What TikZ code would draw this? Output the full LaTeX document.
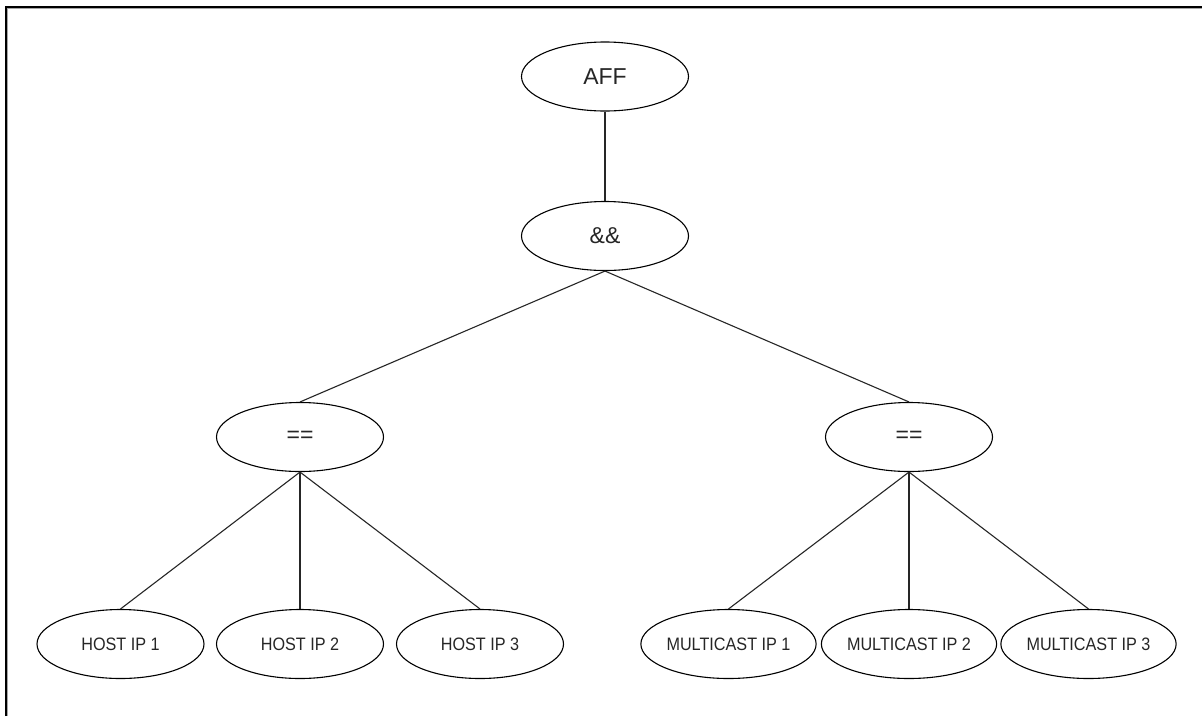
\documentclass[tikz,border=0pt]{standalone}
\usepackage{fontspec}
\setmainfont{Liberation Sans}
\newfontfamily\leaffont[FakeStretch=0.9]{Liberation Sans}
\usetikzlibrary{shapes.geometric}
\begin{document}
\begin{tikzpicture}[x=1pt,y=-1pt,
  oval/.style={ellipse,draw=black,line width=1.1pt,minimum width=167pt,minimum height=69pt,
    inner sep=0pt,text=black!85,font=\fontsize{23}{26}\selectfont},
  leaf/.style={oval,font=\leaffont\fontsize{18}{20}\selectfont},
  link/.style={draw=black!85,line width=1.1pt}]
  \useasboundingbox (0,0) rectangle (1202,716);
  \fill[white] (0,0) rectangle (1202,716);
  % window frame (top and left edges)
  \draw[black!35,line width=1pt] (7.5,716) -- (7.5,8.5) -- (1202,8.5);
  \draw[black,line width=2pt] (5.5,716) -- (5.5,6.5) -- (1202,6.5);

  % tree nodes
  \node[oval] (aff) at (605,76.5) {AFF};
  \node[oval] (and) at (605,236) {\&\&};
  \node[oval] (eqL) at (300,437) {==};
  \node[oval] (eqR) at (909,437) {==};
  \node[leaf] (h1) at (120.5,644) {HOST IP 1};
  \node[leaf] (h2) at (300,644) {HOST IP 2};
  \node[leaf] (h3) at (480,644) {HOST IP 3};
  \node[leaf] (m1) at (728.5,644) {MULTICAST IP 1};
  \node[leaf] (m2) at (909,644) {MULTICAST IP 2};
  \node[leaf] (m3) at (1088.5,644) {MULTICAST IP 3};

  % connectors
  \draw[link] (aff.south) -- (and.north);
  \draw[link] (and.south) -- (eqL.north);
  \draw[link] (and.south) -- (eqR.north);
  \draw[link] (eqL.south) -- (h1.north);
  \draw[link] (eqL.south) -- (h2.north);
  \draw[link] (eqL.south) -- (h3.north);
  \draw[link] (eqR.south) -- (m1.north);
  \draw[link] (eqR.south) -- (m2.north);
  \draw[link] (eqR.south) -- (m3.north);
\end{tikzpicture}
\end{document}
